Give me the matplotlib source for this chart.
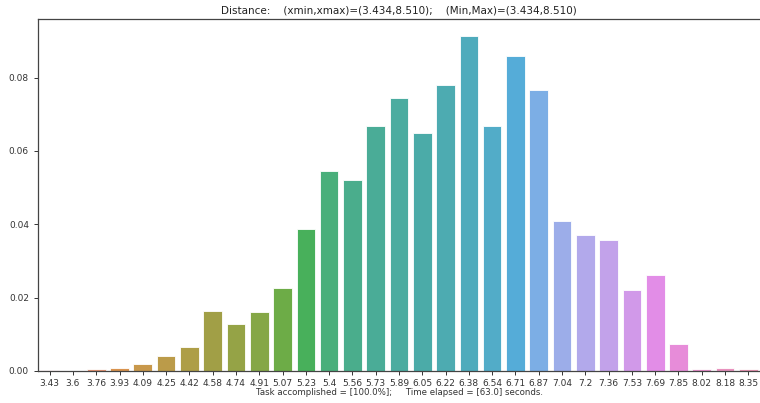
import matplotlib
matplotlib.use('Agg')
import matplotlib.pyplot as plt
import seaborn as sns
import numpy as np

bins = ['3.43', '3.6', '3.76', '3.93', '4.09', '4.25', '4.42', '4.58', '4.74', '4.91',
        '5.07', '5.23', '5.4', '5.56', '5.73', '5.89', '6.05', '6.22', '6.38', '6.54',
        '6.71', '6.87', '7.04', '7.2', '7.36', '7.53', '7.69', '7.85', '8.02', '8.18', '8.35']
freq = [0.0002, 0.0, 0.0005, 0.0007, 0.0019, 0.0041, 0.0066, 0.0163, 0.0127, 0.0160,
        0.0226, 0.0386, 0.0544, 0.0520, 0.0668, 0.0744, 0.0648, 0.0780, 0.0914, 0.0668,
        0.0859, 0.0766, 0.0409, 0.0370, 0.0356, 0.0221, 0.0261, 0.0073, 0.0005, 0.0007, 0.0005]

title = 'Distance:    (xmin,xmax)=(3.434,8.510);    (Min,Max)=(3.434,8.510)'
xlab = 'Task accomplished = [100.0%];     Time elapsed = [63.0] seconds.'

plt.rcParams['font.size'] = 6

fig = plt.figure(figsize=(7.6, 4.03), dpi=100)
ax = fig.add_axes([38/760, 32/403, 722/760, 352/403])

pal = sns.husl_palette(len(bins), l=0.7, s=0.9)
sns.barplot(x=bins, y=freq, hue=bins, palette=pal, legend=False, saturation=0.75,
            edgecolor='white', linewidth=0.6, ax=ax)

ax.set_xlim(-0.5, len(bins) - 0.5)
ax.set_ylim(0, max(freq) * 1.05)
ax.set_yticks([0.0, 0.02, 0.04, 0.06, 0.08])
ax.yaxis.set_major_formatter(matplotlib.ticker.FormatStrFormatter('%.2f'))
ax.tick_params(labelsize=6.5, colors='#333333', length=3, width=0.7)
ax.tick_params(axis='x', pad=2.5)
for s in ax.spines.values():
    s.set_color('#444444')
    s.set_linewidth(0.9)
ax.spines['right'].set_visible(False)

ax.set_title(title, fontsize=7.5, color='#222222', pad=4)
ax.set_xlabel(xlab, fontsize=6.2, color='#333333', labelpad=0.5)

fig.savefig('out.png', dpi=100)
